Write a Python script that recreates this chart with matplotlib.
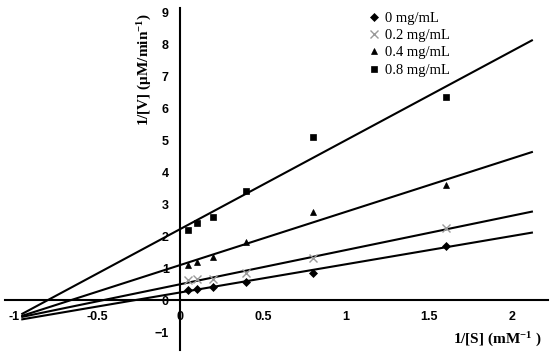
import numpy as np
import matplotlib
matplotlib.use("Agg")
from matplotlib import pyplot as plt

plt.rcParams["mathtext.fontset"] = "custom"
plt.rcParams["mathtext.rm"] = "Liberation Serif:bold"
plt.rcParams["mathtext.it"] = "Liberation Serif:bold"
plt.rcParams["mathtext.bf"] = "Liberation Serif:bold"

# 1/[S] values (mM^-1)
inv_s = [0.05, 0.1, 0.2, 0.4, 0.8, 1.6]

# 1/[V] for each inhibitor concentration
v_0 = [0.33, 0.36, 0.40, 0.56, 0.85, 1.70]
v_02 = [0.63, 0.65, 0.65, 0.85, 1.30, 2.25]
v_04 = [1.10, 1.20, 1.35, 1.80, 2.75, 3.60]
v_08 = [2.20, 2.40, 2.60, 3.40, 5.10, 6.35]

labels = ["0 mg/mL", "0.2 mg/mL", "0.4 mg/mL", "0.8 mg/mL"]
xticks = [-1, -0.5, 0, 0.5, 1, 1.5, 2]
yticks = list(range(-1, 10))

series = [v_0, v_02, v_04, v_08]
markers = ["D", "x", "^", "s"]
colors = ["black", "#9a9a9a", "black", "black"]
msizes = [3.8, 6, 4.5, 4.5]

fig = plt.figure(figsize=(5.5, 3.56), dpi=100)
ax = fig.add_axes([5 / 550, 6 / 356, 543 / 550, 342 / 356])

# trend lines, extended back towards x = -1
xl = np.array([-0.95, 2.12])
for vals in series:
    k, b = np.polyfit(inv_s, vals, 1)
    ax.plot(xl, k * xl + b, color="black", lw=1.5, zorder=2)

for vals, m, c, ms, lab in zip(series, markers, colors, msizes, labels):
    ax.plot(inv_s, vals, ls="none", marker=m, color=c, ms=ms,
            mew=1 if m == "x" else 0.5, label=lab, zorder=3)

ax.set_xlim(-1.054, 2.217)
ax.set_ylim(-1.56, 9.125)
ax.spines["left"].set_position(("data", 0))
ax.spines["bottom"].set_position(("data", 0))
ax.spines["right"].set_visible(False)
ax.spines["top"].set_visible(False)
ax.spines["left"].set_linewidth(1.5)
ax.spines["bottom"].set_linewidth(1.5)
ax.set_xticks(xticks)
ax.set_yticks(yticks)
ax.set_xticklabels([str(t) for t in xticks])
ax.tick_params(axis="both", length=0, labelsize=9)
ax.tick_params(axis="x", pad=8)
ax.tick_params(axis="y", pad=8)
for t in ax.get_xticklabels() + ax.get_yticklabels():
    t.set_fontfamily("Liberation Sans")
    t.set_fontweight("bold")

ax.text(0.258, 0.82, "1/[V] (μM/min$^{-1}$)", transform=ax.transAxes,
        rotation=90, ha="center", va="center", fontsize=11,
        fontfamily="Liberation Serif", fontweight="bold")
ax.text(0.906, 0.03, "1/[S] (mM$^{-1}$ )", transform=ax.transAxes,
        ha="center", va="center", fontsize=11,
        fontfamily="Liberation Serif", fontweight="bold")

leg = ax.legend(loc="upper left", bbox_to_anchor=(0.652, 1.015), frameon=False,
                prop={"family": "Liberation Serif", "size": 10.5},
                handlelength=0.8, handletextpad=0.4, labelspacing=0.28,
                borderaxespad=0.2)

fig.savefig("out.png", dpi=100)
